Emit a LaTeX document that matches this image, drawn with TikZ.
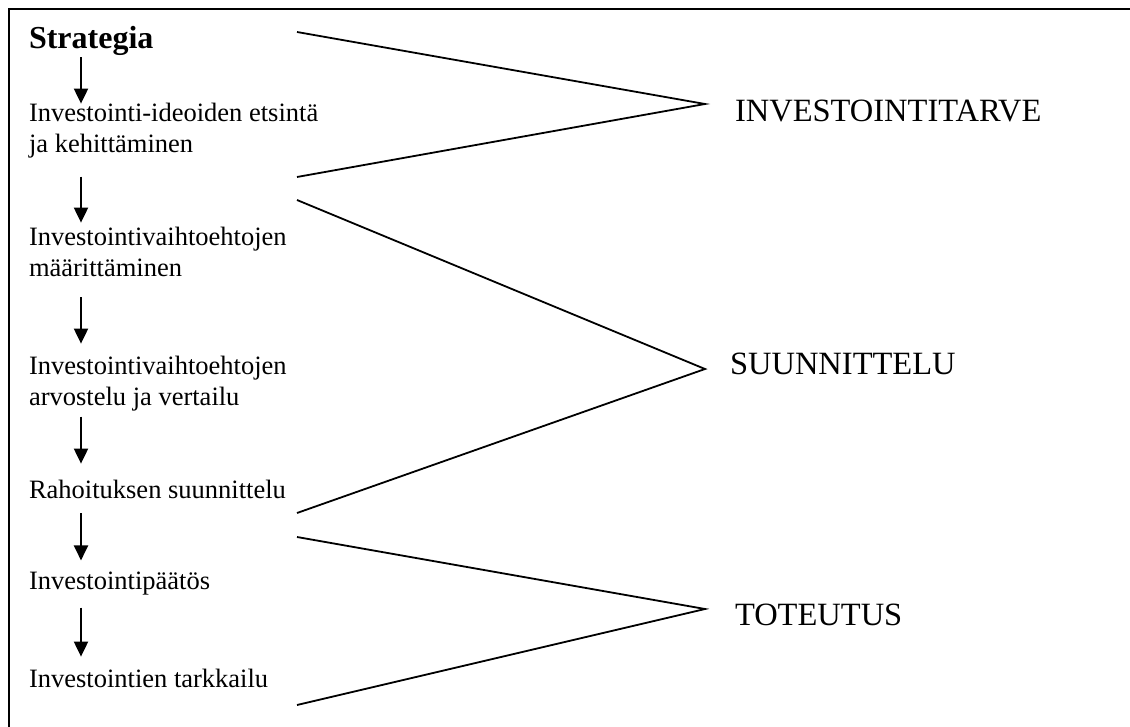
\documentclass[tikz,border=0pt]{standalone}
\usepackage{fontspec}
\setmainfont{Liberation Serif}
\usetikzlibrary{arrows.meta,calc,positioning}
\tikzset{
  >={Triangle[length=15pt,width=14pt]},
  step text/.style={
    inner sep=0pt, outer sep=0pt,
    anchor=base west, align=left,
    font=\fontsize{26.5}{31}\selectfont
  },
  head text/.style={
    step text,
    font=\fontsize{32}{36}\selectfont\bfseries
  },
  phase/.style={
    inner sep=0pt, outer sep=0pt,
    anchor=base west,
    font=\fontsize{32.5}{36}\selectfont
  },
  flow/.style={->, line width=2pt},
  brace line/.style={line width=1.8pt},
  frame/.style={line width=2.4pt}
}

\begin{document}
\begin{tikzpicture}[x=1pt,y=-1pt]
  \useasboundingbox (0,0) rectangle (1130,727);
  \draw[frame] (1130,9) -- (9,9) -- (9,727);

  % steps on the left (base = last line)
  \node[head text] (s0) at (29,49) {Strategia};
  \node[step text] (s1) at (29,153) {Investointi-ideoiden etsintä\\ja kehittäminen};
  \node[step text] (s2) at (29,277) {Investointivaihtoehtojen\\määrittäminen};
  \node[step text] (s3) at (29,405) {Investointivaihtoehtojen\\arvostelu ja vertailu};
  \node[step text] (s4) at (29,498) {Rahoituksen suunnittelu};
  \node[step text] (s5) at (29,589) {Investointipäätös};
  \node[step text] (s6) at (29,687) {Investointien tarkkailu};

  \coordinate (ax) at (81,0);
  \draw[flow,shorten <=1pt] (s0.south -| ax) -- (s1.north -| ax);
  \draw[flow,shorten <=18pt,shorten >=5pt] (s1.south -| ax) -- (s2.north -| ax);
  \draw[flow,shorten <=20pt,shorten >=12pt] (s2.south -| ax) -- (s3.north -| ax);
  \draw[flow,shorten <=6pt,shorten >=16pt] (s3.south -| ax) -- (s4.north -| ax);
  \draw[flow,shorten <=15pt,shorten >=11pt] (s4.south -| ax) -- (s5.north -| ax);
  \draw[flow,shorten <=13pt,shorten >=12pt] (s5.south -| ax) -- (s6.north -| ax);

  % phases on the right
  \node[phase] (p1) at (735,122) {INVESTOINTITARVE};
  \node[phase] (p2) at (730,374) {SUUNNITTELU};
  \node[phase] (p3) at (735,625) {TOTEUTUS};

  \coordinate (tip1) at (705,104);
  \coordinate (tip2) at (705,369);
  \coordinate (tip3) at (705,609);

  \coordinate (u1) at (297,32);
  \coordinate (l1) at (297,177);
  \coordinate (u2) at (297,200);
  \coordinate (l2) at (297,513);
  \coordinate (u3) at (297,537);
  \coordinate (l3) at (297,705);

  \draw[brace line] (u1) -- (tip1) -- (l1);
  \draw[brace line] (u2) -- (tip2) -- (l2);
  \draw[brace line] (u3) -- (tip3) -- (l3);
\end{tikzpicture}
\end{document}
